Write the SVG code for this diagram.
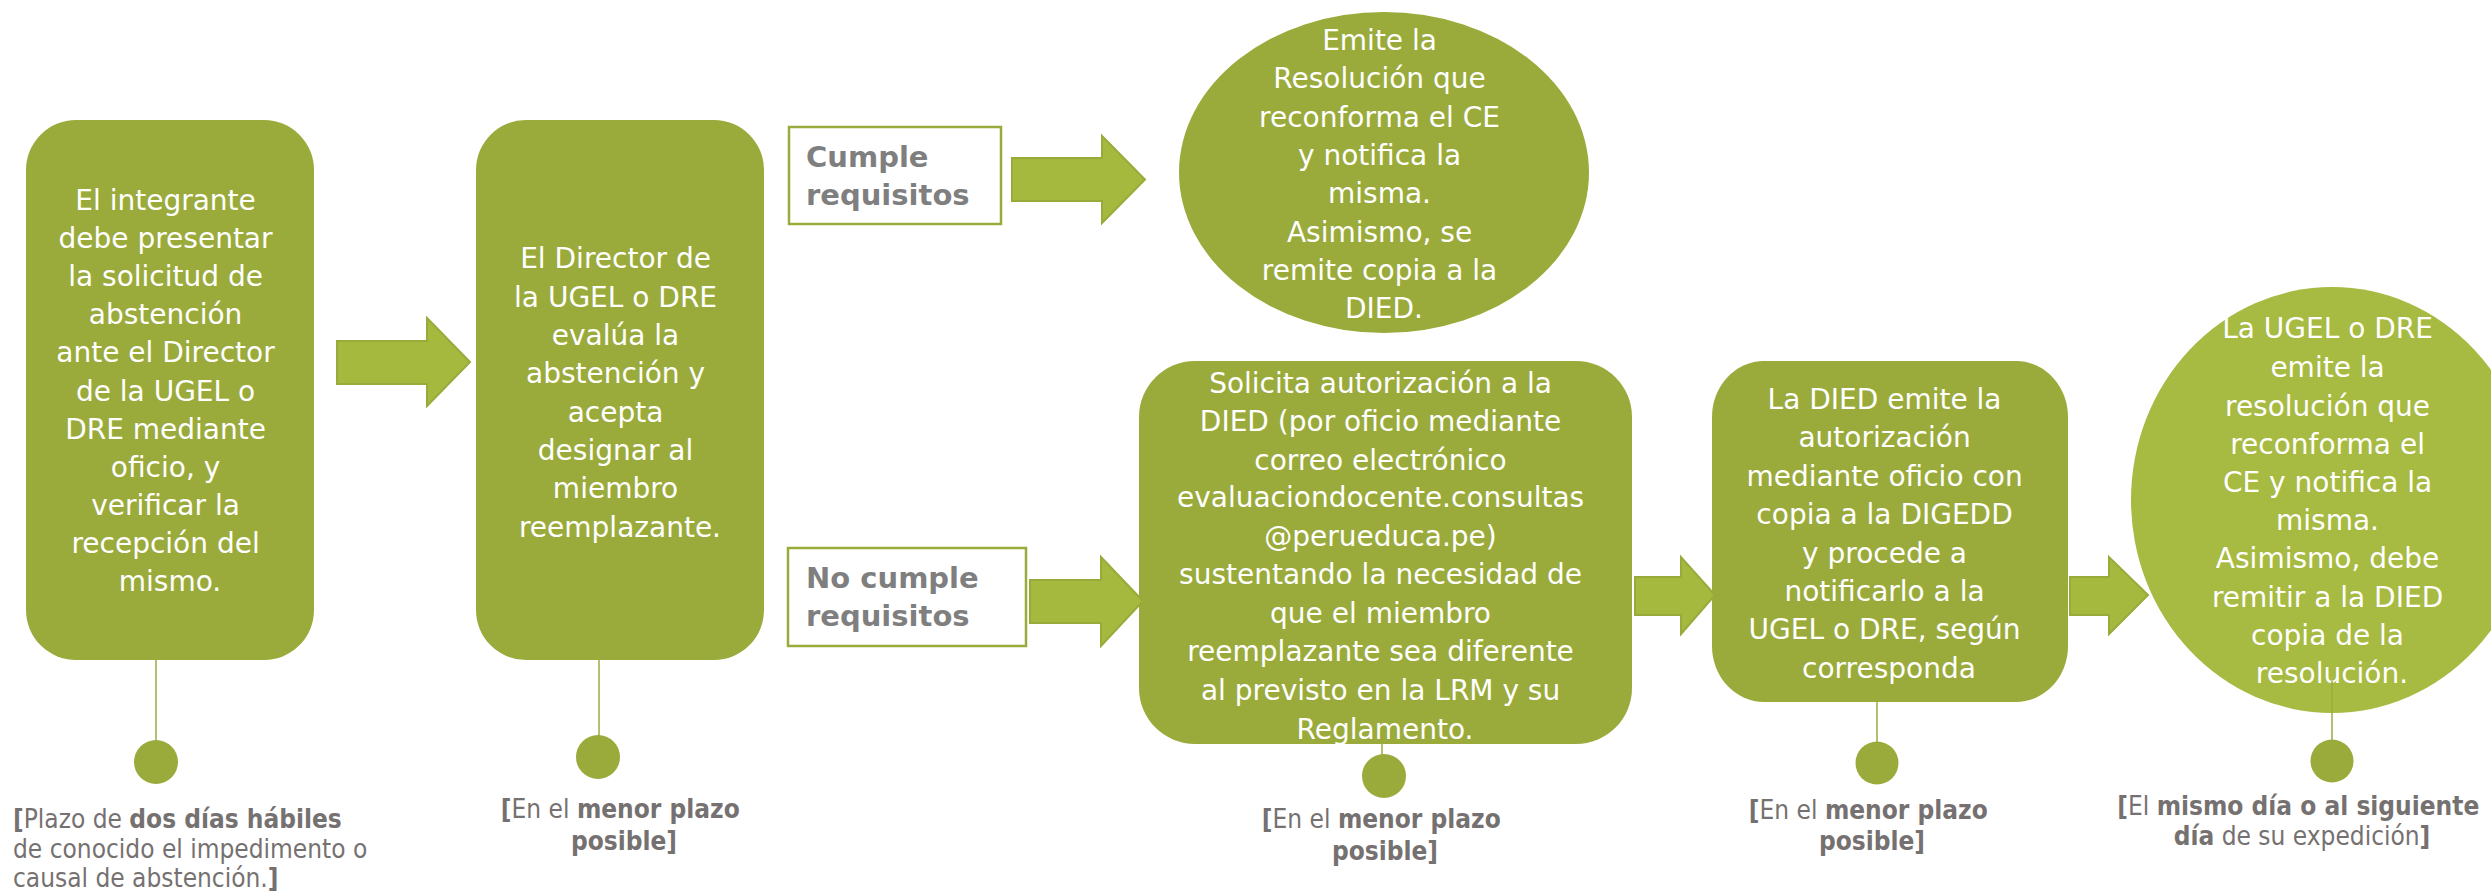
<svg xmlns="http://www.w3.org/2000/svg" width="2491" height="891" viewBox="0 0 2491 891">
<style>
.node{fill:#9aab3c}
.light{fill:#a7ba41}
.t{font-family:"DejaVu Sans",Verdana,sans-serif;font-size:28px;fill:#ffffff;text-anchor:middle}
.req{font-family:"DejaVu Sans",Verdana,sans-serif;font-size:29px;font-weight:bold;fill:#7f7f7f}
.lab{font-family:"DejaVu Sans",Verdana,sans-serif;font-size:26px;fill:#767171}
.c{text-anchor:middle}
.b{font-weight:bold}
.arrow{fill:#a6b93f;stroke:#98aa3a;stroke-width:2}
.line{stroke:#9aab3c;stroke-width:1.5;fill:none}
.dot{fill:#9aab3c}
.box{fill:#ffffff;stroke:#9aab3c;stroke-width:2.5}
</style>

<g id="node-1">
<rect class="node" x="26" y="120" width="288" height="540" rx="50" ry="50"/>
<text class="t">
<tspan x="170" y="210">El integrante</tspan>
<tspan x="170" y="248">debe presentar</tspan>
<tspan x="170" y="286">la solicitud de</tspan>
<tspan x="170" y="324">abstención</tspan>
<tspan x="170" y="362">ante el Director</tspan>
<tspan x="170" y="401">de la UGEL o</tspan>
<tspan x="170" y="439">DRE mediante</tspan>
<tspan x="170" y="477">oficio, y</tspan>
<tspan x="170" y="515">verificar la</tspan>
<tspan x="170" y="553">recepción del</tspan>
<tspan x="170" y="591">mismo.</tspan>
</text>
</g>

<g id="node-2">
<rect class="node" x="476" y="120" width="288" height="540" rx="50" ry="50"/>
<text class="t">
<tspan x="620" y="268">El Director de</tspan>
<tspan x="620" y="307">la UGEL o DRE</tspan>
<tspan x="620" y="345">evalúa la</tspan>
<tspan x="620" y="383">abstención y</tspan>
<tspan x="620" y="422">acepta</tspan>
<tspan x="620" y="460">designar al</tspan>
<tspan x="620" y="498">miembro</tspan>
<tspan x="620" y="537">reemplazante.</tspan>
</text>
</g>

<g id="cumple">
<rect class="box" x="789" y="127" width="212" height="97"/>
<text class="req"><tspan x="806" y="167">Cumple</tspan><tspan x="806" y="205">requisitos</tspan></text>
</g>

<g id="no-cumple">
<rect class="box" x="788" y="548" width="238" height="98"/>
<text class="req"><tspan x="806" y="588">No cumple</tspan><tspan x="806" y="626">requisitos</tspan></text>
</g>

<g id="node-3">
<ellipse class="node" cx="1384" cy="172.5" rx="205" ry="160.5"/>
<text class="t">
<tspan x="1384" y="50">Emite la</tspan>
<tspan x="1384" y="88">Resolución que</tspan>
<tspan x="1384" y="127">reconforma el CE</tspan>
<tspan x="1384" y="165">y notifica la</tspan>
<tspan x="1384" y="203">misma.</tspan>
<tspan x="1384" y="242">Asimismo, se</tspan>
<tspan x="1384" y="280">remite copia a la</tspan>
<tspan x="1384" y="318">DIED.</tspan>
</text>
</g>

<g id="node-4">
<rect class="node" x="1139" y="361" width="493" height="383" rx="56" ry="56"/>
<text class="t">
<tspan x="1385" y="393">Solicita autorización a la</tspan>
<tspan x="1385" y="431">DIED (por oficio mediante</tspan>
<tspan x="1385" y="470">correo electrónico</tspan>
<tspan x="1385" y="507">evaluaciondocente.consultas</tspan>
<tspan x="1385" y="546">@perueduca.pe)</tspan>
<tspan x="1385" y="584">sustentando la necesidad de</tspan>
<tspan x="1385" y="623">que el miembro</tspan>
<tspan x="1385" y="661">reemplazante sea diferente</tspan>
<tspan x="1385" y="700">al previsto en la LRM y su</tspan>
<tspan x="1385" y="739">Reglamento.</tspan>
</text>
</g>

<g id="node-5">
<rect class="node" x="1712" y="361" width="356" height="341" rx="52" ry="56"/>
<text class="t">
<tspan x="1889" y="409">La DIED emite la</tspan>
<tspan x="1889" y="447">autorización</tspan>
<tspan x="1889" y="486">mediante oficio con</tspan>
<tspan x="1889" y="524">copia a la DIGEDD</tspan>
<tspan x="1889" y="563">y procede a</tspan>
<tspan x="1889" y="601">notificarlo a la</tspan>
<tspan x="1889" y="639">UGEL o DRE, según</tspan>
<tspan x="1889" y="678">corresponda</tspan>
</text>
</g>

<g id="node-6">
<ellipse class="light" cx="2332" cy="500" rx="201" ry="213"/>
<text class="t">
<tspan x="2332" y="338">La UGEL o DRE</tspan>
<tspan x="2332" y="377">emite la</tspan>
<tspan x="2332" y="416">resolución que</tspan>
<tspan x="2332" y="454">reconforma el</tspan>
<tspan x="2332" y="492">CE y notifica la</tspan>
<tspan x="2332" y="530">misma.</tspan>
<tspan x="2332" y="568">Asimismo, debe</tspan>
<tspan x="2332" y="607">remitir a la DIED</tspan>
<tspan x="2332" y="645">copia de la</tspan>
<tspan x="2332" y="683">resolución.</tspan>
</text>
</g>

<g id="connectors">
<polygon class="arrow" points="337,341 427,341 427,318 470,362 427,406 427,384 337,384"/>
<polygon class="arrow" points="1012,158 1102,158 1102,136 1145,179.5 1102,223 1102,201 1012,201"/>
<polygon class="arrow" points="1030,580 1101,580 1101,557 1143,601 1101,646 1101,623 1030,623"/>
<polygon class="arrow" points="1635,577 1681,577 1681,557 1715,595 1681,634 1681,615 1635,615"/>
<polygon class="arrow" points="2070,577 2109,577 2109,557 2148,595 2109,634 2109,615 2070,615"/>
<line class="line" x1="156" y1="660" x2="156" y2="741"/>
<line class="line" x1="599" y1="660" x2="599" y2="736"/>
<line class="line" x1="1382" y1="744" x2="1382" y2="755"/>
<line class="line" x1="1877" y1="702" x2="1877" y2="742"/>
<line class="line" x1="2332" y1="681" x2="2332" y2="740"/>
</g>

<g id="label-1">
<circle class="dot" cx="156" cy="762" r="22"/>
<text class="lab" transform="translate(13 0) scale(0.9 1)">
<tspan x="0" y="828"><tspan class="b">[</tspan>Plazo de <tspan class="b">dos días hábiles</tspan></tspan>
<tspan x="0" y="858">de conocido el impedimento o</tspan>
<tspan x="0" y="887">causal de abstención.<tspan class="b">]</tspan></tspan>
</text>
</g>

<g id="label-2">
<circle class="dot" cx="598" cy="757" r="22"/>
<text class="lab c" transform="translate(624 0) scale(0.9 1)">
<tspan x="0" y="818"><tspan class="b">[</tspan>En el <tspan class="b">menor plazo</tspan></tspan>
<tspan x="0" y="850" class="b">posible]</tspan>
</text>
</g>

<g id="label-3">
<circle class="dot" cx="1384" cy="776" r="22"/>
<text class="lab c" transform="translate(1385 0) scale(0.9 1)">
<tspan x="0" y="828"><tspan class="b">[</tspan>En el <tspan class="b">menor plazo</tspan></tspan>
<tspan x="0" y="860" class="b">posible]</tspan>
</text>
</g>

<g id="label-4">
<circle class="dot" cx="1877" cy="763" r="21.5"/>
<text class="lab c" transform="translate(1872 0) scale(0.9 1)">
<tspan x="0" y="819"><tspan class="b">[</tspan>En el <tspan class="b">menor plazo</tspan></tspan>
<tspan x="0" y="850" class="b">posible]</tspan>
</text>
</g>

<g id="label-5">
<circle class="dot" cx="2332" cy="761" r="21.5"/>
<text class="lab c" transform="translate(2302 0) scale(0.9 1)">
<tspan x="0" y="815"><tspan class="b">[</tspan>El <tspan class="b">mismo día o al siguiente</tspan></tspan>
<tspan x="0" y="845"><tspan class="b">día</tspan> de su expedición<tspan class="b">]</tspan></tspan>
</text>
</g>
</svg>
